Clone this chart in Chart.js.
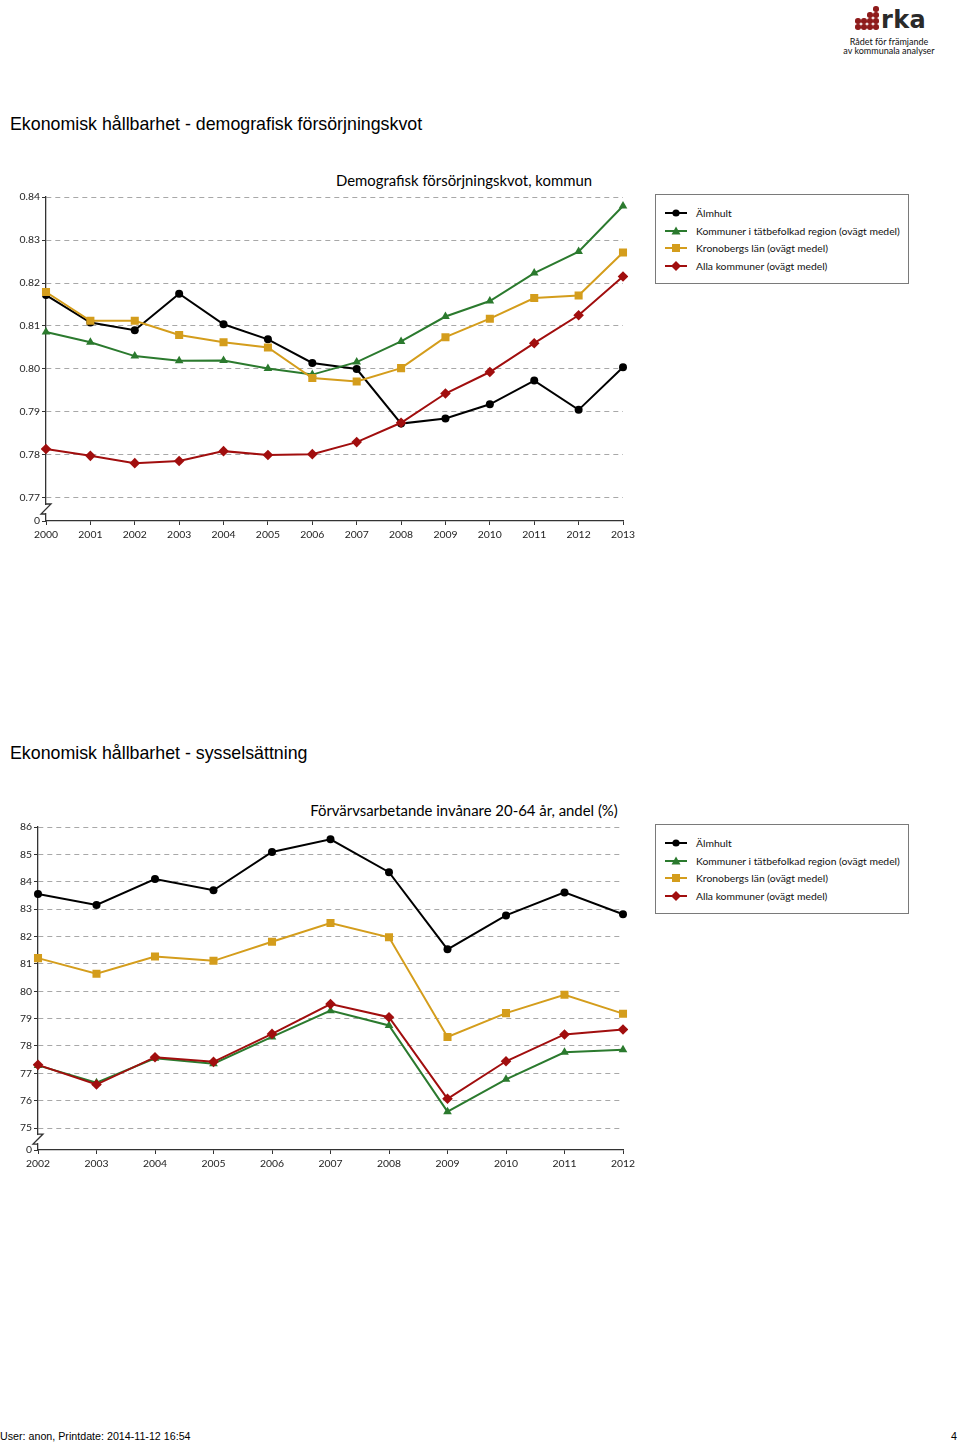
<!DOCTYPE html>
<html><head><meta charset="utf-8">
<script src="https://cdn.jsdelivr.net/npm/chart.js@4/dist/chart.umd.min.js"></script>
<style>
html,body{margin:0;padding:0;background:#fff;}
body{width:960px;height:1442px;position:relative;overflow:hidden;font-family:'Liberation Sans',Arial,sans-serif;color:#000;}
.h{position:absolute;left:10px;font-size:17.8px;line-height:20px;white-space:nowrap;}
.ct{position:absolute;left:300px;width:328px;text-align:center;font-family:Lato,sans-serif;font-size:14.9px;line-height:18px;white-space:nowrap;}
canvas{position:absolute;left:0;}
.legend{position:absolute;left:655px;width:252px;height:88px;border:1px solid #7a7a7a;font-family:Lato,sans-serif;font-size:10.35px;color:#111;}
.li{position:absolute;left:9px;height:14px;line-height:14px;white-space:nowrap;}
.li svg{position:absolute;left:0;top:1px;}
.li span{position:absolute;left:31px;top:0;}
.logo{position:absolute;left:843px;top:2px;width:92px;height:56px;}
.dot{position:absolute;width:5.5px;height:5.5px;border-radius:50%;background:#8e1b1b;}
.rka{position:absolute;left:38px;top:5px;font-family:'DejaVu Sans',sans-serif;font-weight:bold;font-size:24px;line-height:26px;color:#2a2a2a;letter-spacing:0.3px;}
.lt{position:absolute;left:0;width:92px;text-align:center;font-family:Lato,sans-serif;font-size:9px;line-height:10px;color:#111;white-space:nowrap;}
.foot{position:absolute;top:1430px;font-family:'Liberation Sans Narrow','Liberation Sans',sans-serif;font-size:10.7px;line-height:12px;}
</style>
</head>
<body>

<div class="logo">
  <div id="dots"></div>
  <div class="rka">rka</div>
  <div class="lt" style="top:35px">Rådet för främjande</div>
  <div class="lt" style="top:44px">av kommunala analyser</div>
</div>

<div class="h" style="top:114px">Ekonomisk hållbarhet - demografisk försörjningskvot</div>
<div class="ct" style="top:171px">Demografisk försörjningskvot, kommun</div>
<canvas id="c1" width="650" height="390" style="top:160px;width:650px;height:390px"></canvas>
<div class="legend" id="lg1" style="top:194px"></div>

<div class="h" style="top:743px">Ekonomisk hållbarhet - sysselsättning</div>
<div class="ct" style="top:801px">Förvärvsarbetande invånare 20-64 år, andel (%)</div>
<canvas id="c2" width="650" height="389" style="top:790px;width:650px;height:389px"></canvas>
<div class="legend" id="lg2" style="top:824px"></div>

<div class="foot" style="left:0">User: anon, Printdate: 2014-11-12 16:54</div>
<div class="foot" style="left:951px">4</div>

<script>
// ---------- data ----------
const seriesNames = ['Älmhult','Kommuner i tätbefolkad region (ovägt medel)','Kronobergs län (ovägt medel)','Alla kommuner (ovägt medel)'];
const seriesColors = ['#000000','#2b7a2e','#d49d1c','#a10e0e'];
const seriesMarkers = ['circle','triangle','rect','rectRot'];

const years1 = ['2000','2001','2002','2003','2004','2005','2006','2007','2008','2009','2010','2011','2012','2013'];
const almhult1  = [0.8172,0.8108,0.8090,0.8175,0.8104,0.8069,0.8014,0.8000,0.7873,0.7885,0.7918,0.7973,0.7905,0.8004];
const tatbef1   = [0.8086,0.8062,0.8030,0.8019,0.8020,0.8001,0.7987,0.8016,0.8064,0.8122,0.8158,0.8223,0.8273,0.8379];
const kronob1   = [0.8179,0.8112,0.8112,0.8079,0.8062,0.8050,0.7979,0.7971,0.8002,0.8074,0.8117,0.8165,0.8171,0.8271];
const alla1     = [0.7814,0.7798,0.7781,0.7786,0.7809,0.7800,0.7802,0.7830,0.7875,0.7943,0.7993,0.8060,0.8125,0.8215];
const yTicks1 = [0.77,0.78,0.79,0.80,0.81,0.82,0.83,0.84];

const years2 = ['2002','2003','2004','2005','2006','2007','2008','2009','2010','2011','2012'];
const almhult2  = [83.55,83.15,84.10,83.69,85.09,85.55,84.35,81.53,82.77,83.61,82.81];
const tatbef2   = [77.29,76.66,77.55,77.35,78.33,79.29,78.75,75.60,76.78,77.77,77.86];
const kronob2   = [81.21,80.64,81.27,81.11,81.81,82.49,81.97,78.33,79.20,79.87,79.18];
const alla2     = [77.31,76.59,77.59,77.42,78.44,79.53,79.05,76.07,77.44,78.42,78.60];
const yTicks2 = [75,76,77,78,79,80,81,82,83,84,85,86];
const breakLabel = '0';

// ---------- logo dots ----------
(function(){
  const cols=[12,18,24,30], rows=[4,10,16,22];
  const pattern=[[0,0,0,1],[0,0,1,1],[1,1,1,1],[1,1,1,1]];
  const d=document.getElementById('dots');
  pattern.forEach((r,ri)=>r.forEach((v,ci)=>{ if(v){const e=document.createElement('div');e.className='dot';e.style.left=cols[ci]+'px';e.style.top=rows[ri]+'px';d.appendChild(e);} }));
})();

// ---------- legend ----------
function markerSVG(i){
  const c=seriesColors[i]; let m='';
  if(seriesMarkers[i]==='circle') m=`<circle cx="11" cy="6" r="3.6" fill="${c}"/>`;
  if(seriesMarkers[i]==='triangle') m=`<polygon points="11,1.5 15.5,9.5 6.5,9.5" fill="${c}"/>`;
  if(seriesMarkers[i]==='rect') m=`<rect x="7" y="2" width="8" height="8" fill="${c}"/>`;
  if(seriesMarkers[i]==='rectRot') m=`<polygon points="11,1 16,6 11,11 6,6" fill="${c}"/>`;
  return `<svg width="22" height="12"><line x1="0" y1="6" x2="22" y2="6" stroke="${c}" stroke-width="2"/>${m}</svg>`;
}
function buildLegend(id){
  const el=document.getElementById(id); const tops=[11,29,46,64];
  seriesNames.forEach((n,i)=>{ const d=document.createElement('div'); d.className='li'; d.style.top=tops[i]+'px'; d.innerHTML=markerSVG(i)+`<span>${n}</span>`; el.appendChild(d); });
}
buildLegend('lg1'); buildLegend('lg2');

// ---------- charts ----------
const pointRadius = {circle:4, triangle:5, rect:5.7, rectRot:5.3};
function makeDatasets(arrs){
  return arrs.map((d,i)=>({
    label: seriesNames[i], data: d,
    borderColor: seriesColors[i], backgroundColor: seriesColors[i],
    borderWidth: 2, pointStyle: seriesMarkers[i], pointRadius: pointRadius[seriesMarkers[i]],
    pointBorderWidth: 0, tension: 0, order: 4-i
  }));
}

const breakPlugin = {
  id:'axisBreak',
  afterDraw(chart){
    const ys=chart.scales.y, ctx=chart.ctx, x0=chart.chartArea.left;
    const y77 = ys.getPixelForValue(ys.options.breakAt);
    const t=y77+6, b=y77+16;
    ctx.save();
    ctx.fillStyle='#fff'; ctx.fillRect(x0-2,t+1,4,b-t-2);
    ctx.strokeStyle='#333'; ctx.lineWidth=1.3;
    ctx.beginPath(); ctx.moveTo(x0,t); ctx.lineTo(x0+5,t); ctx.lineTo(x0-5,b); ctx.lineTo(x0,b); ctx.stroke();
    ctx.restore();
  }
};

function makeChart(id, labels, arrs, ticks, yMin, yWidth, decimals){
  return new Chart(document.getElementById(id), {
    type:'line',
    data:{labels, datasets: makeDatasets(arrs)},
    options:{
      responsive:false, animation:false, devicePixelRatio:1,
      layout:{padding:{top:37,right:27,left:0,bottom:0}},
      plugins:{legend:{display:false}, tooltip:{enabled:false}, title:{display:false}},
      scales:{
        x:{
          offset:false,
          grid:{drawOnChartArea:false, tickLength:4, tickColor:'#333', tickWidth:1},
          border:{color:'#333', width:1.3},
          ticks:{font:{family:'Lato', size:10.4}, color:'#222', padding:3, maxRotation:0, autoSkip:false},
          afterFit(s){ s.height=29; }
        },
        y:{
          min:yMin, max:ticks[ticks.length-1], breakAt:ticks[0],
          afterBuildTicks(s){ s.ticks=[{value:yMin}].concat(ticks.map(v=>({value:v}))); },
          grid:{color:c=> (c.tick && c.tick.value===yMin) ? 'rgba(0,0,0,0)' : '#a8a8a8', lineWidth:1, tickLength:4, tickColor:'#333', tickWidth:1},
          border:{color:'#333', width:1.3, dash:[5,4]},
          ticks:{font:{family:'Lato', size:10.4}, color:'#222', padding:2,
                 callback:(v,i)=> i===0 ? breakLabel : Number(v).toFixed(decimals)},
          afterFit(s){ s.width=yWidth; }
        }
      }
    },
    plugins:[breakPlugin]
  });
}

makeChart('c1', years1, [almhult1,tatbef1,kronob1,alla1], yTicks1, 0.77-23/4300, 46, 2);
makeChart('c2', years2, [almhult2,tatbef2,kronob2,alla2], yTicks2, 75-22/27.45, 38, 0);
</script>
</body></html>
